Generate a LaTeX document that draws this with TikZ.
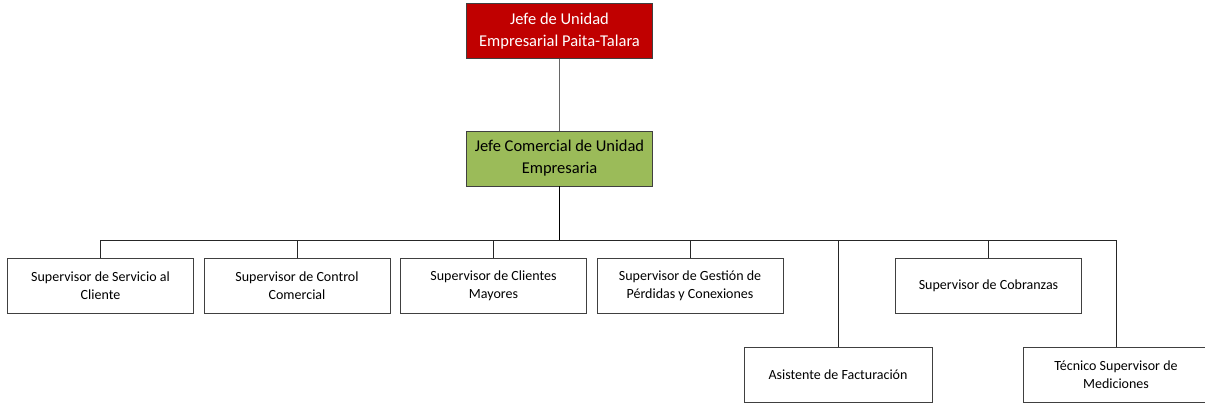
\documentclass[tikz,border=0pt]{standalone}
\usepackage{fontspec}
\setmainfont{Carlito}
\definecolor{jefered}{HTML}{C00000}
\definecolor{jefegreen}{HTML}{9BBB59}
\definecolor{boxline}{HTML}{404040}
\begin{document}
\begin{tikzpicture}[x=1pt,y=-1pt,
  orgbox/.style={draw=boxline,line width=0.9pt,minimum width=186pt,minimum height=55pt,align=center,inner sep=0pt,font=\fontsize{14}{18}\selectfont,fill=white},
  topbox/.style={orgbox,fill=jefered,text=white,font=\fontsize{16.5}{22}\selectfont},
  midbox/.style={orgbox,fill=jefegreen,text=black,font=\fontsize{16.5}{22}\selectfont},
  conn/.style={draw=black!85,line width=0.9pt},
  thick conn/.style={draw=black,line width=1.8pt}]
\useasboundingbox (0,0) rectangle (1205,405);
\node[topbox] (jefe) at (559.5,31) {Jefe de Unidad\\Empresarial Paita-Talara};
\node[midbox] (com) at (559.5,158.5) {Jefe Comercial de Unidad\\Empresaria};
\node[orgbox] (s1) at (100.5,285.5) {Supervisor de Servicio al\\Cliente};
\node[orgbox] (s2) at (297,285.5) {Supervisor de Control\\Comercial};
\node[orgbox] (s3) at (493.5,285.5) {Supervisor de Clientes\\Mayores};
\node[orgbox] (s4) at (690,285.5) {Supervisor de Gestión de\\Pérdidas y Conexiones};
\node[orgbox] (s5) at (988.5,285.5) {Supervisor de Cobranzas};
\node[orgbox,minimum width=188pt] (s6) at (838,375) {Asistente de Facturación};
\node[orgbox] (s7) at (1116,375) {Técnico Supervisor de\\Mediciones};
\coordinate (bus) at (559.5,240);
\draw[draw=black!60,line width=0.9pt] (jefe.south) -- (com.north);
\draw[thick conn] (com.south) -- (bus);
\draw[conn] (s1.north) |- (bus);
\draw[conn] (s2.north) |- (bus);
\draw[conn] (s3.north) |- (bus);
\draw[conn] (s4.north) |- (bus);
\draw[conn] (s5.north) |- (bus);
\draw[conn] (s6.north) |- (bus);
\draw[conn] (s7.north) |- (bus);
\end{tikzpicture}
\end{document}
